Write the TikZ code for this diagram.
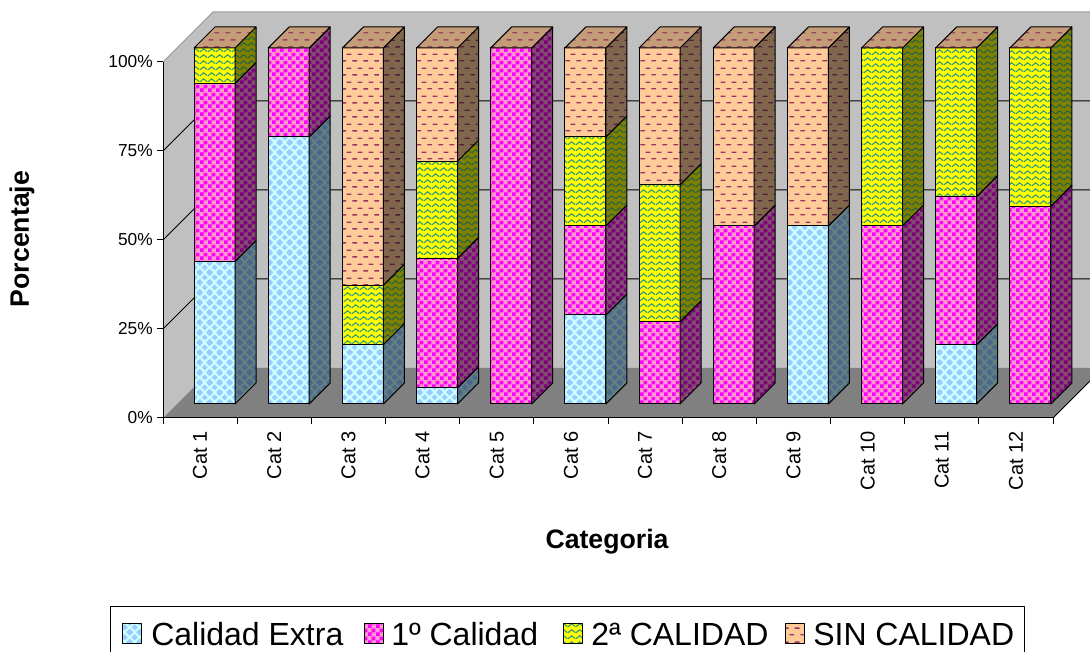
\documentclass[tikz,border=0pt]{standalone}
\usepackage{fontspec}
\setmainfont{Liberation Sans}
\usetikzlibrary{patterns}

\definecolor{xlwall}{RGB}{192,192,192}
\definecolor{xlfloor}{RGB}{128,128,128}
\definecolor{xledge}{RGB}{150,150,150}
% series colours: background / pattern, front and side
\definecolor{extraBg}{RGB}{204,255,255}
\definecolor{extraFg}{RGB}{153,204,255}
\definecolor{extraSideBg}{RGB}{99,128,128}
\definecolor{extraSideFg}{RGB}{77,102,140}
\definecolor{primBg}{RGB}{255,153,204}
\definecolor{primFg}{RGB}{255,0,255}
\definecolor{primSideBg}{RGB}{128,77,110}
\definecolor{primSideFg}{RGB}{128,0,128}
\definecolor{segBg}{RGB}{255,255,0}
\definecolor{segFg}{RGB}{51,153,128}
\definecolor{segSideBg}{RGB}{128,128,0}
\definecolor{segSideFg}{RGB}{40,100,70}
\definecolor{sinBg}{RGB}{255,204,153}
\definecolor{sinFg}{RGB}{153,51,102}
\definecolor{sinSideBg}{RGB}{128,102,77}
\definecolor{sinSideFg}{RGB}{80,30,55}
\definecolor{sinTopBg}{RGB}{196,156,120}
\definecolor{sinTopFg}{RGB}{150,70,100}

% fill patterns
\pgfdeclarepatternformonly{xlcheck}{\pgfqpoint{0pt}{0pt}}{\pgfqpoint{6pt}{6pt}}{\pgfqpoint{6pt}{6pt}}{%
  \pgfpathrectangle{\pgfqpoint{0pt}{0pt}}{\pgfqpoint{3pt}{3pt}}%
  \pgfpathrectangle{\pgfqpoint{3pt}{3pt}}{\pgfqpoint{3pt}{3pt}}%
  \pgfusepath{fill}}
\newcommand\xldia[2]{%
  \pgfpathmoveto{\pgfpoint{#1pt-2.4pt}{#2pt}}%
  \pgfpathlineto{\pgfpoint{#1pt}{#2pt+2.4pt}}%
  \pgfpathlineto{\pgfpoint{#1pt+2.4pt}{#2pt}}%
  \pgfpathlineto{\pgfpoint{#1pt}{#2pt-2.4pt}}%
  \pgfpathclose}
\pgfdeclarepatternformonly{xldiamond}{\pgfqpoint{0pt}{0pt}}{\pgfqpoint{7.5pt}{7.5pt}}{\pgfqpoint{7.5pt}{7.5pt}}{%
  \xldia{0}{0}\xldia{7.5}{0}\xldia{0}{7.5}\xldia{7.5}{7.5}\xldia{3.75}{3.75}%
  \pgfusepath{fill}}
\pgfdeclarepatternformonly{xlwave}{\pgfqpoint{0pt}{0pt}}{\pgfqpoint{6pt}{4.8pt}}{\pgfqpoint{6pt}{4.8pt}}{%
  \pgfsetlinewidth{0.9pt}%
  \pgfpathmoveto{\pgfqpoint{0pt}{1pt}}%
  \pgfpathcurveto{\pgfqpoint{1.2pt}{1pt}}{\pgfqpoint{1.8pt}{3.4pt}}{\pgfqpoint{3pt}{3.4pt}}%
  \pgfpathcurveto{\pgfqpoint{4.2pt}{3.4pt}}{\pgfqpoint{4.8pt}{1pt}}{\pgfqpoint{6pt}{1pt}}%
  \pgfusepath{stroke}}
\pgfdeclarepatternformonly{xldash}{\pgfqpoint{0pt}{0pt}}{\pgfqpoint{8pt}{10.5pt}}{\pgfqpoint{8pt}{10.5pt}}{%
  \pgfpathrectangle{\pgfqpoint{0.3pt}{2pt}}{\pgfqpoint{3.6pt}{1.1pt}}%
  \pgfpathrectangle{\pgfqpoint{4.3pt}{7.25pt}}{\pgfqpoint{3.6pt}{1.1pt}}%
  \pgfusepath{fill}}

\tikzset{
  xlface/.style={draw=black, line width=0.75pt},
  front extra/.style={xlface, preaction={fill=extraBg}, pattern=xldiamond, pattern color=extraFg},
  side extra/.style={xlface, preaction={fill=extraSideBg}, pattern=xldiamond, pattern color=extraSideFg},
  front prim/.style={xlface, preaction={fill=primBg}, pattern=xlcheck, pattern color=primFg},
  side prim/.style={xlface, preaction={fill=primSideBg}, pattern=xlcheck, pattern color=primSideFg},
  front seg/.style={xlface, preaction={fill=segBg}, pattern=xlwave, pattern color=segFg},
  side seg/.style={xlface, preaction={fill=segSideBg}, pattern=xlwave, pattern color=segSideFg},
  front sin/.style={xlface, preaction={fill=sinBg}, pattern=xldash, pattern color=sinFg},
  side sin/.style={xlface, preaction={fill=sinSideBg}, pattern=xldash, pattern color=sinSideFg},
  top sin/.style={xlface, preaction={fill=sinTopBg}, pattern=xldash, pattern color=sinTopFg},
  ticklabel/.style={font=\fontsize{13}{15}\selectfont, inner sep=0pt},
  catlabel/.style={font=\fontsize{15}{18}\selectfont, inner sep=0pt, rotate=90, anchor=east},
  axistitle/.style={font=\fontsize{20}{24}\selectfont\bfseries, inner sep=0pt},
  legtext/.style={font=\fontsize{24}{29}\selectfont, inner sep=0pt, anchor=base west}
}

\begin{document}
\begin{tikzpicture}[x=0.75pt, y=-0.75pt, line join=round]
  \useasboundingbox (0,0) rectangle (1090,652);
  % walls and floor
  \fill[xlwall] (213,12) rectangle (1090,368);
  \fill[xlwall] (163,62) -- (213,12) -- (213,368) -- (163,418) -- cycle;
  \fill[xlfloor] (163,418) -- (213,368) -- (1090,368) -- (1090,381) -- (1053,418) -- cycle;
  \draw[xledge, line width=0.75pt] (163,62) -- (213,12) -- (1090,12);
  \draw[line width=0.75pt] (1053,418) -- (1090,381);
  % grid
  \foreach \p in {25,50,75}
    \draw[line width=0.75pt] (163,{418-3.56*\p}) -- ++(50,-50) -- (1090,{368-3.56*\p});
  % axes
  \draw[line width=0.75pt] (163,62) -- (163,418) -- (1053,418);
  \foreach \p in {0,25,50,75,100} {
    \draw[line width=0.75pt] (157,{418-3.56*\p}) -- (163,{418-3.56*\p});
    \node[ticklabel, anchor=east] (y\p) at (153,{418-3.56*\p}) {\p\%};
  }
  \foreach \k in {0,...,12}
    \draw[line width=0.75pt] ({163+74.17*\k},418) -- ++(0,6);
  \foreach \i in {1,...,12}
    \node[catlabel] (cat\i) at ({163+74.17*(\i-0.5)},431) {Cat \i};
  % stacked bars (cumulative tops of the first three series)
  \foreach \i/\va/\vb/\vc in {1/40/90/100, 2/75/100/100, 3/16.67/16.67/33.33,
      4/4.55/40.91/68.18, 5/0/100/100, 6/25/50/75, 7/0/23.08/61.54, 8/0/50/50,
      9/50/50/50, 10/0/50/100, 11/16.67/58.33/100, 12/0/55.56/100} {
    \pgfmathsetmacro\xl{194+74.17*(\i-1)}
    \foreach \lo/\hi/\sty in {0/\va/extra, \va/\vb/prim, \vb/\vc/seg, \vc/100/sin} {
      \pgfmathtruncatemacro\nz{\hi>\lo}
      \ifnum\nz=1
        \path[front \sty] (\xl,{404-3.56*\lo}) rectangle ++(41,{-3.56*(\hi-\lo)});
        \path[side \sty] (\xl+41,{404-3.56*\lo}) -- ++(21,-21) -- ++(0,{-3.56*(\hi-\lo)}) -- ++(-21,21) -- cycle;
      \fi
    }
    \path[top sin] (\xl,48) -- ++(21,-21) -- ++(41,0) -- ++(-21,21) -- cycle;
  }
  % titles
  \node[axistitle, rotate=90] (ytitle) at (22,239) {Porcentaje};
  \node[axistitle] (xtitle) at (607,542) {Categoria};
  % legend
  \draw[line width=0.75pt] (110,660) |- (1024,606) -- (1024,660);
  \foreach \sty/\sx/\tx/\txt in {extra/122/151/Calidad Extra, prim/364/391/1º Calidad,
      seg/563/591/2ª CALIDAD, sin/785/813/SIN CALIDAD} {
    \path[front \sty] (\sx,623) rectangle ++(19,20);
    \node[legtext] (leg\sty) at (\tx,645) {\txt};
  }
\end{tikzpicture}
\end{document}
